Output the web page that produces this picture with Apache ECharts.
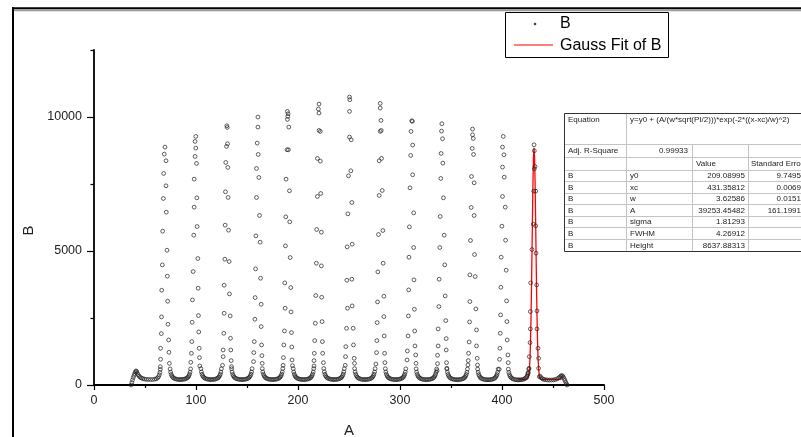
<!DOCTYPE html>
<html>
<head>
<meta charset="utf-8">
<script src="https://cdn.jsdelivr.net/npm/echarts@6/dist/echarts.min.js"></script>
<style>
  html, body { margin: 0; padding: 0; background: #fff; }
  #main { width: 801px; height: 437px; }
</style>
</head>
<body>
<div id="main"></div>
<script>
// column A / column B of the worksheet
const headB = [
  [36.4,0],[37.1,90],[37.8,190],[38.5,280],[39.2,360],[39.9,430],[40.6,490],[41.2,525],[41.8,500],
  [42.5,440],[43.3,380],[44.2,330],[45.2,290],[46.4,260],[47.8,238],[49.4,222],[51.2,212],[53.2,206],
  [55.3,204],[57.4,207],[59.4,215],[61.0,232],[62.3,262],[63.3,310],[64.0,380],[64.6,470],[65.0,580]
];

const peaksB = [
  [[69.6,8877],[68.9,8615],[70.6,8366],[68.3,7893],[70.6,7433],[68.0,6960],[70.9,6449],[67.3,5739],[71.6,5030],[67.0,4482],[71.9,4059],[66.4,3536],[72.2,3125],[66.2,2540],[72.5,2266],[66.0,1917],[73.2,1681],[65.3,1370],[73.5,1220],[65.3,959],[73.9,809],[65.0,685]],
  [[99.8,9275],[99.1,9089],[99.8,8840],[99.1,8528],[100.5,8267],[98.2,7682],[100.8,6984],[98.2,6636],[101.1,5914],[97.8,5590],[101.8,4719],[97.2,4233],[102.1,3611],[96.5,3175],[102.4,2590],[96.2,2341],[102.7,1980],[95.9,1619],[103.1,1370],[95.5,1183],[103.4,1021],[94.9,847],[103.7,710]],
  [[130.2,9674],[130.6,9611],[130.9,9001],[129.9,8902],[129.2,8304],[131.2,8117],[128.9,7209],[131.5,6997],[128.6,5964],[131.9,5777],[128.3,4694],[132.5,4607],[127.6,3723],[132.8,3399],[127.6,2677],[133.5,2577],[127.3,1930],[133.8,1743],[126.6,1307],[134.1,1307],[126.6,1058],[134.5,909],[126.0,735],[134.8,685]],
  [[160.7,9997],[160.7,9624],[160.0,9026],[161.0,8603],[159.3,8080],[161.6,7744],[159.3,6997],[162.3,6325],[158.7,5565],[162.9,5329],[158.4,4333],[163.3,3984],[158.0,3262],[163.9,3013],[157.7,2453],[163.9,2179],[157.1,1619],[164.3,1494],[156.7,1208],[164.6,1096],[156.4,872],[164.9,809]],
  [[189.6,10209],[190.3,10122],[190.0,10022],[189.6,9910],[191.0,9624],[189.3,8777],[190.6,8777],[188.3,7682],[191.6,7246],[188.0,6275],[191.9,6088],[187.7,5192],[192.3,4756],[187.0,3810],[192.9,3635],[187.4,2864],[193.2,2727],[186.7,2017],[193.6,1955],[186.1,1494],[193.9,1419],[185.7,1021],[194.2,934],[185.4,735],[194.6,722]],
  [[220.6,10483],[220.0,10296],[220.6,10147],[220.6,9499],[221.9,9462],[219.0,8454],[221.9,8354],[219.0,7034],[222.3,7146],[218.3,5802],[222.9,5702],[218.0,4544],[222.9,4445],[217.4,3337],[223.2,3274],[217.0,2303],[223.6,2366],[216.4,1656],[223.9,1619],[216.0,1183],[224.2,1183],[215.7,909],[224.9,834],[215.7,710]],
  [[250.5,10744],[250.8,10645],[250.5,10209],[250.5,9250],[252.1,9151],[251.8,7993],[249.5,7806],[252.8,6810],[248.9,6387],[253.1,5254],[248.2,5154],[252.8,3947],[247.9,3909],[248.5,2864],[253.1,2951],[247.6,2117],[254.1,2117],[246.9,1432],[254.4,1494],[246.6,1058],[255.1,996],[246.3,735],[255.4,809]],
  [[280.6,10508],[280.6,10334],[281.3,9873],[280.6,9462],[281.6,9499],[279.6,8366],[281.9,8454],[282.6,7258],[279.6,7072],[283.2,5764],[278.9,5615],[283.5,4544],[278.3,4221],[284.2,3312],[278.0,3100],[284.2,2552],[277.6,2328],[284.5,1830],[277.3,1656],[284.9,1183],[277.0,1208],[285.2,834],[276.4,784]],
  [[311.5,9860],[312.1,9836],[310.8,9462],[312.4,8952],[310.5,8566],[312.4,7844],[309.8,7358],[313.4,6424],[309.2,5901],[313.4,5129],[308.8,4768],[313.7,3922],[308.5,3548],[314.1,2826],[308.2,2577],[314.4,2017],[307.9,1830],[314.7,1457],[307.2,1270],[315.4,1121],[306.9,934],[315.7,809]],
  [[341.0,9748],[340.7,9474],[341.7,9188],[340.3,8640],[342.0,8279],[340.0,7707],[342.6,6984],[339.4,6287],[343.3,5590],[339.0,5129],[343.9,4482],[338.4,3947],[344.3,3324],[338.1,2926],[344.9,2403],[337.4,2092],[345.3,1731],[337.4,1457],[345.3,1307],[336.8,1108],[345.6,834],[336.8,797],[345.9,623],[336.4,535]],
  [[371.1,9549],[371.1,9338],[371.8,9200],[370.8,8827],[372.1,8603],[370.1,7781],[372.7,7545],[369.8,6623],[372.7,6325],[369.1,5391],[373.1,4868],[368.5,4109],[373.7,4046],[368.5,3113],[374.4,2839],[368.2,2353],[375.0,2054],[367.8,1606],[375.0,1457],[367.2,1183],[375.7,996],[366.9,909],[376.0,747],[366.6,747]],
  [[401.2,9275],[400.5,8877],[401.9,8591],[400.5,8130],[402.2,7756],[400.5,7034],[403.2,6636],[399.9,5926],[403.5,5403],[399.2,4768],[404.1,4283],[398.9,3648],[404.5,3137],[398.6,2615],[404.8,2366],[398.3,1930],[405.1,1681],[397.9,1370],[405.8,1121],[397.6,959],[406.1,834],[397.3,585]],
  [[431.4,8964],[431.7,8740],[432.4,8155],[431.7,8068],[431.1,7234],[433.0,7234],[430.7,6001],[433.0,5939],[433.4,4918],[429.4,5055],[434.0,3735],[428.1,3810],[434.3,2764],[427.8,2739],[434.3,2092],[427.8,2092],[435.3,1370],[427.5,1581],[435.9,996],[426.8,1058],[435.9,623],[426.5,623],[436.6,311],[425.5,436]]
];

const valleysB = [
  [[74.6,600],[75.1,480],[75.7,395],[76.4,335],[77.2,290],[78.2,258],[79.4,235],[80.8,218],[82.2,208],[83.6,203],[84.8,202],[86.0,204],[87.4,209],[88.8,220],[90.2,238],[91.3,262],[92.2,295],[93.0,340],[93.6,400],[94.2,480],[94.7,600]],
  [[104.8,610],[105.3,485],[105.9,400],[106.6,338],[107.4,292],[108.4,260],[109.6,236],[111.0,219],[112.4,209],[113.8,204],[115.0,203],[116.2,205],[117.6,210],[119.0,221],[120.4,239],[121.5,263],[122.4,296],[123.2,342],[123.8,402],[124.4,483],[124.9,605]],
  [[134.9,605],[135.4,482],[136.0,398],[136.7,337],[137.5,291],[138.5,259],[139.7,236],[141.1,219],[142.5,209],[143.9,204],[145.1,203],[146.3,205],[147.7,210],[149.1,221],[150.5,239],[151.6,263],[152.5,297],[153.3,343],[153.9,404],[154.5,485],[155.0,610]],
  [[165.0,612],[165.5,488],[166.1,401],[166.8,339],[167.6,293],[168.6,260],[169.8,237],[171.2,219],[172.6,209],[174.0,204],[175.2,203],[176.4,205],[177.8,210],[179.2,221],[180.6,239],[181.7,264],[182.6,298],[183.4,344],[184.0,405],[184.6,487],[185.1,612]],
  [[195.3,610],[195.8,486],[196.4,400],[197.1,339],[197.9,293],[198.9,260],[200.1,237],[201.5,219],[202.9,209],[204.3,204],[205.5,203],[206.7,205],[208.1,210],[209.5,221],[210.9,239],[212.0,263],[212.9,297],[213.7,343],[214.3,404],[214.9,486],[215.4,610]],
  [[225.3,615],[225.8,490],[226.4,402],[227.1,340],[227.9,294],[228.9,261],[230.1,238],[231.5,220],[232.9,210],[234.3,205],[235.5,204],[236.7,206],[238.1,211],[239.5,222],[240.9,240],[242.0,264],[242.9,298],[243.7,344],[244.3,405],[244.9,488],[245.4,612]],
  [[255.5,612],[256.0,488],[256.6,401],[257.3,339],[258.1,293],[259.1,260],[260.3,237],[261.7,219],[263.1,209],[264.5,204],[265.7,203],[266.9,205],[268.3,210],[269.7,221],[271.1,239],[272.2,263],[273.1,297],[273.9,343],[274.5,404],[275.1,486],[275.6,610]],
  [[285.6,608],[286.1,485],[286.7,399],[287.4,338],[288.2,292],[289.2,259],[290.4,236],[291.8,218],[293.2,208],[294.6,203],[295.8,202],[297.0,204],[298.4,209],[299.8,220],[301.2,238],[302.3,262],[303.2,296],[304.0,341],[304.6,401],[305.2,482],[305.7,604]],
  [[315.8,602],[316.3,481],[316.9,396],[317.6,336],[318.4,290],[319.4,257],[320.6,234],[322.0,216],[323.4,206],[324.8,201],[326.0,200],[327.2,202],[328.6,207],[330.0,218],[331.4,236],[332.5,260],[333.4,293],[334.2,338],[334.8,398],[335.4,478],[335.9,598]],
  [[346.0,598],[346.5,478],[347.1,393],[347.8,333],[348.6,287],[349.6,254],[350.8,231],[352.2,213],[353.6,203],[355.0,198],[356.2,197],[357.4,199],[358.8,204],[360.2,215],[361.6,233],[362.7,257],[363.6,290],[364.4,335],[365.0,395],[365.6,475],[366.1,595]],
  [[376.1,594],[376.6,474],[377.2,390],[377.9,330],[378.7,284],[379.7,251],[380.9,228],[382.3,210],[383.7,200],[385.1,195],[386.3,194],[387.5,196],[388.9,201],[390.3,212],[391.7,230],[392.8,254],[393.7,287],[394.5,332],[395.1,392],[395.7,472],[396.2,592]],
  [[406.2,590],[406.7,470],[407.3,386],[408.0,326],[408.8,280],[409.8,247],[411.0,224],[412.4,206],[413.8,196],[415.2,191],[416.4,190],[417.6,192],[419.0,197],[420.4,208],[421.8,226],[422.9,250],[423.8,283],[424.6,328],[425.2,388],[425.8,468],[426.3,588]]
];

const tailB = [
  [437.4,330],[438.4,270],[439.6,232],[441.0,210],[442.6,196],[444.4,188],[446.4,184],[448.4,186],[450.4,192],
  [452.3,205],[454.0,228],[455.5,262],[456.7,300],[457.7,334],[458.5,350],[459.3,338],[460.1,300],[460.9,240],
  [461.7,170],[462.5,100],[463.2,40],[463.8,0]
];

// Gauss fit curve, as drawn
const fitA = [416.0,423.4,424.4,425.4,425.9,426.4,426.9,427.4,427.9,428.4,428.9,429.4,429.9,430.4,430.9,431.4,
  431.9,432.4,432.9,433.4,433.9,434.4,434.9,435.4,435.9,436.4,436.9,437.4,438.4,439.4,458.5];
const fitB = [209,209,214,245,296,402,606,967,1549,2406,3547,4910,6343,7628,8525,8847,
  8525,7628,6343,4910,3547,2406,1549,967,606,402,296,245,214,209,209];

const yMajorTicks = [0, 5000, 10000];
const yMinorTicks = [2500, 7500, 12500];

const paramNames = ['y0', 'xc', 'w', 'A', 'sigma', 'FWHM', 'Height'];
const paramValues = ['209.08995', '431.35812', '3.62586', '39253.45482', '1.81293', '4.26912', '8637.88313'];
const paramErrors = ['9.7495', '0.0069', '0.0151', '161.1991', '', '', ''];
const equationText = 'y=y0 + (A/(w*sqrt(PI/2)))*exp(-2*((x-xc)/w)^2)';
const adjR2 = '0.99933';

const FONT = '"Liberation Sans", Arial, sans-serif';

const chart = echarts.init(document.getElementById('main'));

const allB = headB.concat(...peaksB.map((p, i) => i < valleysB.length ? p.concat(valleysB[i]) : p), tailB);

// frame, legend box and parameter table
const g = [];
g.push({type: 'line', z: 20, shape: {x1: 12, y1: 8.2, x2: 801, y2: 8.2}, style: {stroke: '#000', lineWidth: 2}});
g.push({type: 'line', z: 20, shape: {x1: 14, y1: 10.2, x2: 801, y2: 10.2}, style: {stroke: '#9a9a9a', lineWidth: 2}});
g.push({type: 'line', z: 20, shape: {x1: 13, y1: 7.2, x2: 13, y2: 437}, style: {stroke: '#000', lineWidth: 2}});

g.push({type: 'rect', z: 20, shape: {x: 505.5, y: 12.5, width: 163, height: 45}, style: {fill: '#fff', stroke: '#000', lineWidth: 1}});
g.push({type: 'circle', z: 21, shape: {cx: 535, cy: 24, r: 1.3}, style: {fill: '#444'}});
g.push({type: 'text', z: 21, x: 560, y: 24, style: {text: 'B', fill: '#000', font: '16px ' + FONT, verticalAlign: 'middle'}});
g.push({type: 'line', z: 21, shape: {x1: 514, y1: 45, x2: 553, y2: 45}, style: {stroke: '#ff0000', lineWidth: 1.2}});
g.push({type: 'text', z: 21, x: 560, y: 45.5, style: {text: 'Gauss Fit of B', fill: '#000', font: '16px ' + FONT, verticalAlign: 'middle'}});

const colX = [564.5, 626.5, 692.5, 748.5];
const rowY = [113.5, 144.5, 157.5, 170.5, 181.5, 193.5, 204.5, 216.5, 227.5, 239.5, 251.5];
const tFont = '8px ' + FONT;
const tColor = '#222';
g.push({type: 'rect', z: 20, shape: {x: colX[0], y: rowY[0], width: 260, height: rowY[10] - rowY[0]}, style: {fill: '#fff', stroke: null}});
for (let i = 1; i < rowY.length - 1; i++) {
  g.push({type: 'line', z: 21, shape: {x1: colX[0], y1: rowY[i], x2: 801, y2: rowY[i]}, style: {stroke: '#c4c4c4', lineWidth: 1}});
}
g.push({type: 'line', z: 21, shape: {x1: colX[1], y1: rowY[0], x2: colX[1], y2: rowY[10]}, style: {stroke: '#c4c4c4', lineWidth: 1}});
g.push({type: 'line', z: 21, shape: {x1: colX[2], y1: rowY[1], x2: colX[2], y2: rowY[10]}, style: {stroke: '#c4c4c4', lineWidth: 1}});
g.push({type: 'line', z: 21, shape: {x1: colX[3], y1: rowY[1], x2: colX[3], y2: rowY[10]}, style: {stroke: '#c4c4c4', lineWidth: 1}});
g.push({type: 'line', z: 22, shape: {x1: colX[0], y1: rowY[0], x2: 801, y2: rowY[0]}, style: {stroke: '#333', lineWidth: 1}});
g.push({type: 'line', z: 22, shape: {x1: colX[0], y1: rowY[10], x2: 801, y2: rowY[10]}, style: {stroke: '#333', lineWidth: 1}});
g.push({type: 'line', z: 22, shape: {x1: colX[0], y1: rowY[0], x2: colX[0], y2: rowY[10]}, style: {stroke: '#333', lineWidth: 1}});

function cellText(text, x, y, align) {
  g.push({type: 'text', z: 23, x: x, y: y, style: {text: text, fill: tColor, font: tFont, align: align || 'left', verticalAlign: 'middle'}});
}
cellText('Equation', 568, 119.5);
cellText(equationText, 630, 119.5);
cellText('Adj. R-Square', 568, (rowY[1] + rowY[2]) / 2);
cellText(adjR2, 688, (rowY[1] + rowY[2]) / 2, 'right');
cellText('Value', 696, (rowY[2] + rowY[3]) / 2);
cellText('Standard Error', 751, (rowY[2] + rowY[3]) / 2);
paramNames.forEach((name, i) => {
  const cy = (rowY[3 + i] + rowY[4 + i]) / 2;
  cellText('B', 568, cy);
  cellText(name, 630, cy);
  cellText(paramValues[i], 745, cy, 'right');
  if (paramErrors[i]) cellText(paramErrors[i], 801, cy, 'right');
});

chart.setOption({
  animation: false,
  backgroundColor: '#fff',
  grid: {left: 94, right: 197, top: 50, bottom: 52, containLabel: false, outerBoundsMode: 'none'},
  xAxis: {
    type: 'value', min: 0, max: 500, interval: 100,
    name: 'A', nameLocation: 'middle', nameGap: 38,
    nameTextStyle: {color: '#222', fontSize: 15, fontFamily: FONT},
    axisLine: {onZero: false, lineStyle: {color: '#000', width: 2}},
    axisTick: {length: 5, lineStyle: {color: '#000', width: 1.2}},
    minorTick: {show: true, splitNumber: 2, length: 3, lineStyle: {color: '#000', width: 1.2}},
    splitLine: {show: false},
    axisLabel: {color: '#222', fontSize: 12.5, fontFamily: FONT, margin: 9}
  },
  yAxis: [{
    type: 'value', min: 0, max: 12500, position: 'left',
    name: 'B', nameLocation: 'middle', nameGap: 47, nameRotate: 90,
    nameTextStyle: {color: '#222', fontSize: 15, fontFamily: FONT, padding: [0, 26, 0, 0]},
    axisLine: {show: true, onZero: false, lineStyle: {color: '#000', width: 1.8}},
    axisTick: {show: true, length: 7, customValues: yMajorTicks, lineStyle: {color: '#000', width: 1.2}},
    axisLabel: {customValues: yMajorTicks, formatter: v => String(v), color: '#222', fontSize: 12.5, fontFamily: FONT, margin: 12},
    splitLine: {show: false}
  }, {
    type: 'value', min: 0, max: 12500, position: 'left',
    axisLine: {show: false},
    axisTick: {show: true, length: 3.5, customValues: yMinorTicks, lineStyle: {color: '#000', width: 1.2}},
    axisLabel: {show: false},
    splitLine: {show: false}
  }],
  series: [{
    name: 'Gauss Fit of B',
    type: 'line',
    data: fitA.map((a, i) => [a, fitB[i]]),
    showSymbol: false,
    silent: true,
    z: 2,
    lineStyle: {color: '#ff0000', width: 1.3}
  }, {
    name: 'B',
    type: 'scatter',
    data: allB,
    symbol: 'circle',
    symbolSize: 3.8,
    silent: true,
    z: 3,
    itemStyle: {color: 'rgba(0,0,0,0)', borderColor: '#222', borderWidth: 0.9}
  }],
  graphic: g
});
</script>
</body>
</html>
